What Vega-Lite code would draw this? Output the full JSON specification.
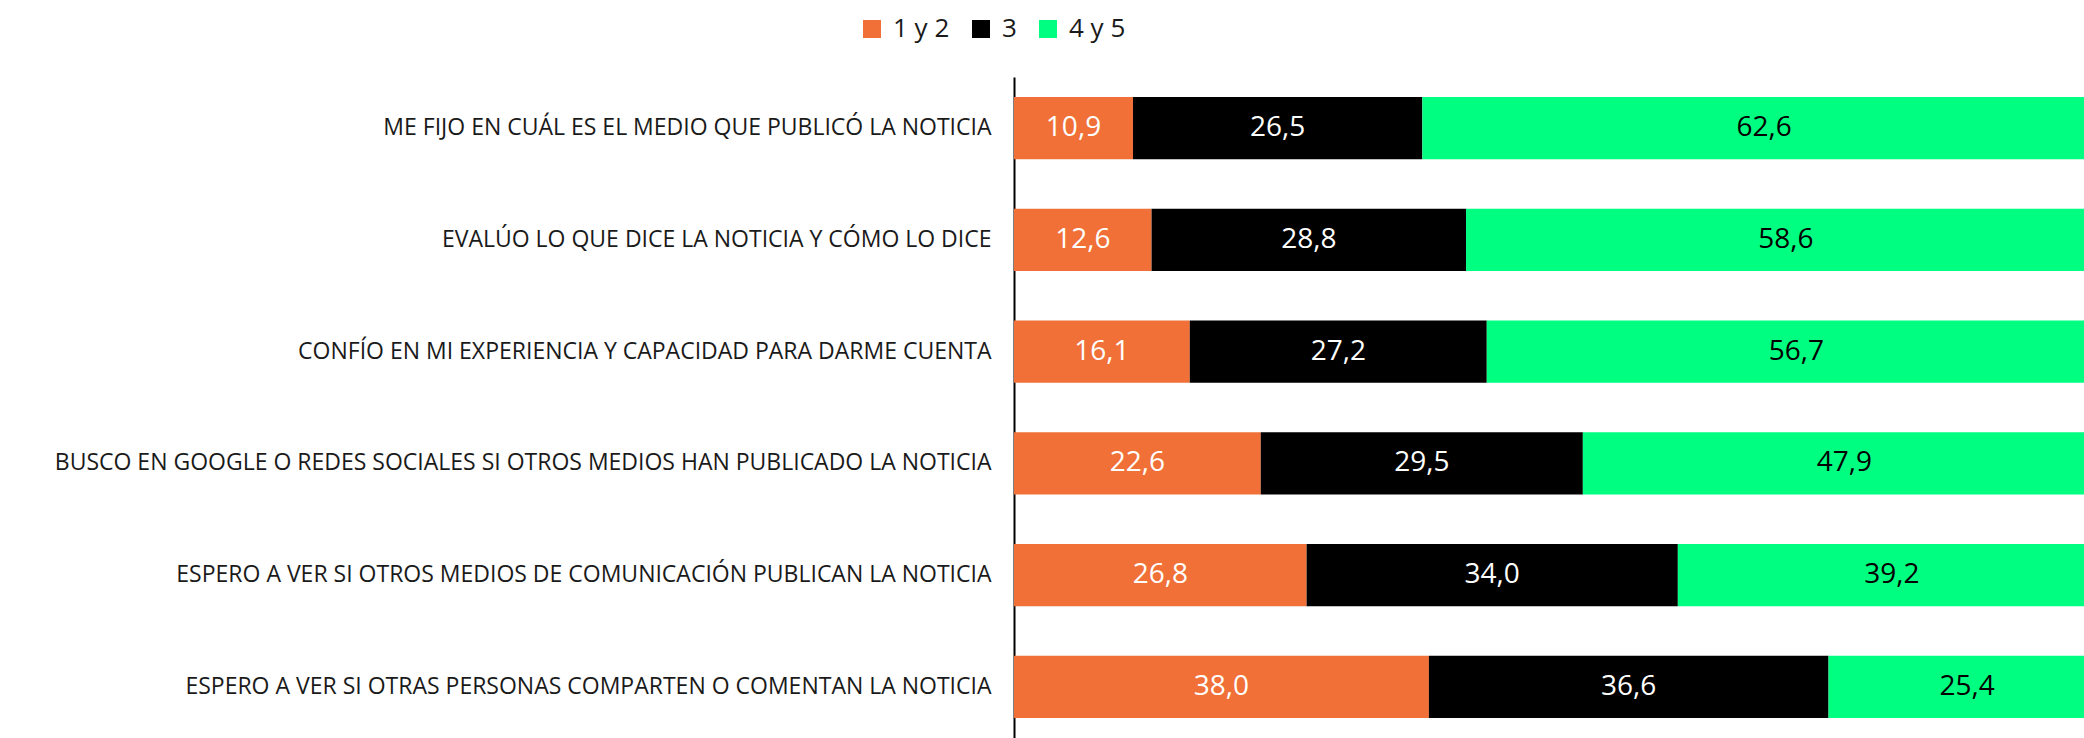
{
  "$schema": "https://vega.github.io/schema/vega-lite/v6.json",
  "width": 1070,
  "height": 661,
  "autosize": "none",
  "padding": {"left": 1014, "top": 77, "right": 0, "bottom": 0},
  "background": "white",
  "config": {
    "view": {"stroke": null},
    "locale": {"number": {"decimal": ",", "thousands": ".", "grouping": [3], "currency": ["", " €"]}}
  },
  "data": {
    "values": [
      {"item": "ME FIJO EN CUÁL ES EL MEDIO QUE PUBLICÓ LA NOTICIA", "cat": "1 y 2", "value": 10.9},
      {"item": "ME FIJO EN CUÁL ES EL MEDIO QUE PUBLICÓ LA NOTICIA", "cat": "3", "value": 26.5},
      {"item": "ME FIJO EN CUÁL ES EL MEDIO QUE PUBLICÓ LA NOTICIA", "cat": "4 y 5", "value": 62.6},
      {"item": "EVALÚO LO QUE DICE LA NOTICIA Y CÓMO LO DICE", "cat": "1 y 2", "value": 12.6},
      {"item": "EVALÚO LO QUE DICE LA NOTICIA Y CÓMO LO DICE", "cat": "3", "value": 28.8},
      {"item": "EVALÚO LO QUE DICE LA NOTICIA Y CÓMO LO DICE", "cat": "4 y 5", "value": 58.6},
      {"item": "CONFÍO EN MI EXPERIENCIA Y CAPACIDAD PARA DARME CUENTA", "cat": "1 y 2", "value": 16.1},
      {"item": "CONFÍO EN MI EXPERIENCIA Y CAPACIDAD PARA DARME CUENTA", "cat": "3", "value": 27.2},
      {"item": "CONFÍO EN MI EXPERIENCIA Y CAPACIDAD PARA DARME CUENTA", "cat": "4 y 5", "value": 56.7},
      {"item": "BUSCO EN GOOGLE O REDES SOCIALES SI OTROS MEDIOS HAN PUBLICADO LA NOTICIA", "cat": "1 y 2", "value": 22.6},
      {"item": "BUSCO EN GOOGLE O REDES SOCIALES SI OTROS MEDIOS HAN PUBLICADO LA NOTICIA", "cat": "3", "value": 29.5},
      {"item": "BUSCO EN GOOGLE O REDES SOCIALES SI OTROS MEDIOS HAN PUBLICADO LA NOTICIA", "cat": "4 y 5", "value": 47.9},
      {"item": "ESPERO A VER SI OTROS MEDIOS DE COMUNICACIÓN PUBLICAN LA NOTICIA", "cat": "1 y 2", "value": 26.8},
      {"item": "ESPERO A VER SI OTROS MEDIOS DE COMUNICACIÓN PUBLICAN LA NOTICIA", "cat": "3", "value": 34.0},
      {"item": "ESPERO A VER SI OTROS MEDIOS DE COMUNICACIÓN PUBLICAN LA NOTICIA", "cat": "4 y 5", "value": 39.2},
      {"item": "ESPERO A VER SI OTRAS PERSONAS COMPARTEN O COMENTAN LA NOTICIA", "cat": "1 y 2", "value": 38.0},
      {"item": "ESPERO A VER SI OTRAS PERSONAS COMPARTEN O COMENTAN LA NOTICIA", "cat": "3", "value": 36.6},
      {"item": "ESPERO A VER SI OTRAS PERSONAS COMPARTEN O COMENTAN LA NOTICIA", "cat": "4 y 5", "value": 25.4}
    ]
  },
  "transform": [
    {"stack": "value", "groupby": ["item"], "sort": [{"field": "cat", "order": "ascending"}], "as": ["v0", "v1"]},
    {"calculate": "(datum.v0 + datum.v1) / 2", "as": "mid"}
  ],
  "encoding": {
    "y": {
      "field": "item",
      "type": "nominal",
      "sort": [
        "ME FIJO EN CUÁL ES EL MEDIO QUE PUBLICÓ LA NOTICIA",
        "EVALÚO LO QUE DICE LA NOTICIA Y CÓMO LO DICE",
        "CONFÍO EN MI EXPERIENCIA Y CAPACIDAD PARA DARME CUENTA",
        "BUSCO EN GOOGLE O REDES SOCIALES SI OTROS MEDIOS HAN PUBLICADO LA NOTICIA",
        "ESPERO A VER SI OTROS MEDIOS DE COMUNICACIÓN PUBLICAN LA NOTICIA",
        "ESPERO A VER SI OTRAS PERSONAS COMPARTEN O COMENTAN LA NOTICIA"
      ],
      "scale": {"paddingInner": 0.445, "paddingOuter": 0.18},
      "axis": {
        "title": null,
        "ticks": false,
        "domain": true,
        "domainColor": "#000000",
        "domainWidth": 2,
        "labelPadding": 23,
        "labelFont": "Open Sans",
        "labelFontSize": 23,
        "labelColor": "#1a1a1a",
        "labelLimit": 1100,
        "grid": false
      }
    }
  },
  "layer": [
    {
      "mark": {"type": "bar", "clip": true},
      "encoding": {
        "x": {"field": "v0", "type": "quantitative", "scale": {"domain": [0, 98], "nice": false, "zero": true}, "axis": null},
        "x2": {"field": "v1"},
        "color": {
          "field": "cat",
          "type": "nominal",
          "scale": {"domain": ["1 y 2", "3", "4 y 5"], "range": ["#F07037", "#000000", "#00FF80"]},
          "legend": {
            "title": null,
            "orient": "none",
            "legendX": -155,
            "legendY": -61,
            "direction": "horizontal",
            "columns": 3,
            "symbolType": "square",
            "symbolSize": 324,
            "symbolStrokeWidth": 0,
            "labelFont": "Open Sans",
            "labelFontSize": 26,
            "labelColor": "#1a1a1a",
            "labelOffset": 8,
            "columnPadding": 18
          }
        }
      }
    },
    {
      "mark": {"type": "text", "font": "Open Sans", "fontSize": 28, "align": "center", "baseline": "middle"},
      "encoding": {
        "x": {"field": "mid", "type": "quantitative"},
        "text": {"field": "value", "type": "quantitative", "format": ".1f"},
        "color": {"condition": {"test": "datum.cat === '4 y 5'", "value": "#000000"}, "value": "#ffffff"}
      }
    }
  ]
}
